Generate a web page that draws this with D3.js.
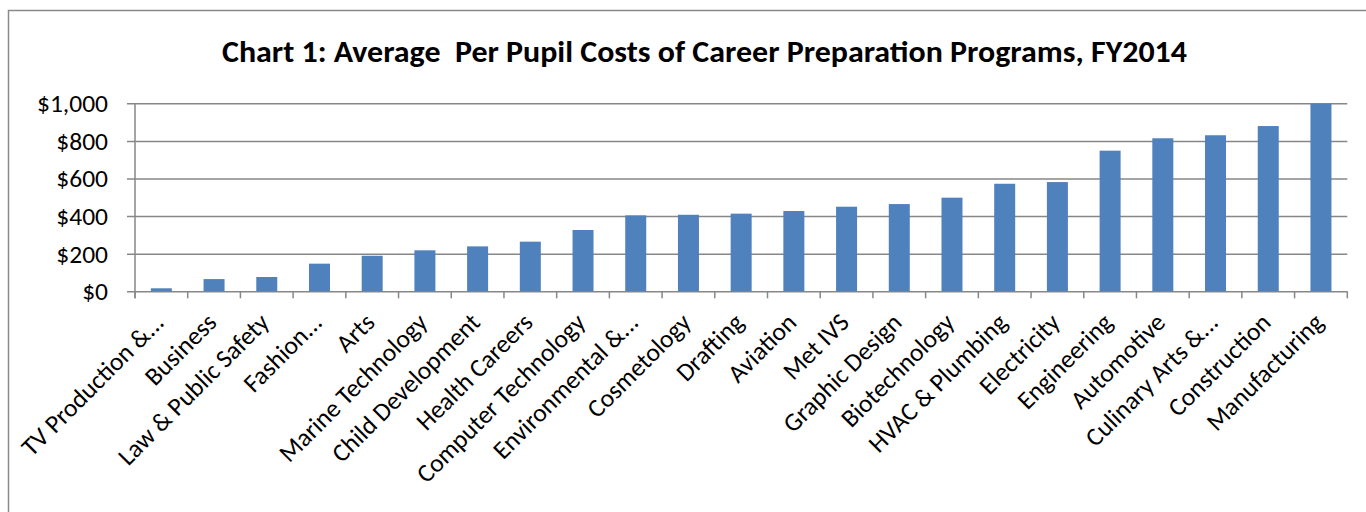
<!DOCTYPE html>
<html>
<head>
<meta charset="utf-8">
<script src="https://cdn.jsdelivr.net/npm/d3@7/dist/d3.min.js"></script>
<style>
  html, body { margin: 0; padding: 0; background: #fff; }
  svg { display: block; }
  text { font-family: Calibri, Carlito, Lato, "Open Sans", sans-serif; fill: #000; }
</style>
</head>
<body>
<svg id="chart" width="1366" height="512"></svg>
<script>
const titleText = "Chart 1: Average  Per Pupil Costs of Career Preparation Programs, FY2014";
const categories = [
  "TV Production &...", "Business", "Law & Public Safety", "Fashion...", "Arts",
  "Marine Technology", "Child Development", "Health Careers", "Computer Technology",
  "Environmental &...", "Cosmetology", "Drafting", "Aviation", "Met IVS",
  "Graphic Design", "Biotechnology", "HVAC & Plumbing", "Electricity",
  "Engineering", "Automotive", "Culinary Arts &...", "Construction", "Manufacturing"
];
const values = [
  16, 65, 76, 147, 189, 218, 239, 264, 326, 404, 407, 413, 427, 450,
  464, 498, 572, 581, 748, 814, 830, 879, 998
];
const yTickValues = [0, 200, 400, 600, 800, 1000];
const yTickLabels = ["$0", "$200", "$400", "$600", "$800", "$1,000"];

(function () {
const svg = d3.select("#chart");
const plotLeft = 135, plotRight = 1347.3, plotTop = 103.3, plotBottom = 291.3;
const gridColor = "#878787";

// fit font size so "$1,000" is ~71px wide, whatever font is present
const probe = svg.append("text").attr("font-size", 100).text("$1,000");
const probeW = probe.node().getComputedTextLength();
probe.remove();
const labelSize = Math.min(26, Math.max(18, 100 * 71 / probeW));

// frame
svg.append("rect")
  .attr("x", 8.5).attr("y", 10.5).attr("width", 1400).attr("height", 600)
  .attr("fill", "none").attr("stroke", "#8a8a8a").attr("stroke-width", 1.5);

// title
svg.append("text")
  .attr("x", 704.5).attr("y", 62)
  .attr("text-anchor", "middle")
  .style("white-space", "pre")
  .attr("font-size", 30).attr("font-weight", "bold")
  .attr("textLength", 965).attr("lengthAdjust", "spacingAndGlyphs")
  .text(titleText);

const xb = d3.scaleBand().domain(categories).range([plotLeft, plotRight]).padding(0);
const y = d3.scaleLinear().domain([0, 1000]).range([plotBottom, plotTop]);

// y axis with gridlines
const yAxis = d3.axisLeft(y).tickValues(yTickValues)
  .tickFormat((d, i) => yTickLabels[i])
  .tickSize(-(plotRight - plotLeft)).tickSizeOuter(0).tickPadding(0);
const gy = svg.append("g").attr("transform", `translate(${plotLeft},0)`).call(yAxis);
gy.select(".domain").remove();
gy.selectAll(".tick line").attr("x1", -8).attr("stroke", gridColor).attr("stroke-width", 1.5);
gy.selectAll(".tick text")
  .attr("x", -27).attr("dy", "0.33em")
  .attr("font-size", labelSize).attr("fill", "#000")
  .attr("font-family", "Calibri, Carlito, Lato, 'Open Sans', sans-serif");

// bars
svg.append("g").selectAll("rect")
  .data(values)
  .join("rect")
  .attr("x", (d, i) => xb(categories[i]) + xb.bandwidth() / 2 - 10.5)
  .attr("width", 21)
  .attr("y", d => y(d))
  .attr("height", d => y(0) - y(d))
  .attr("fill", "#4F81BD");

// y axis line
svg.append("line")
  .attr("x1", plotLeft).attr("x2", plotLeft).attr("y1", plotTop).attr("y2", plotBottom + 7)
  .attr("stroke", gridColor).attr("stroke-width", 1.5);

// x axis ticks at category boundaries
const bounds = categories.map(c => xb(c)).concat([plotRight]);
svg.append("g").selectAll("line")
  .data(bounds)
  .join("line")
  .attr("x1", d => d).attr("x2", d => d)
  .attr("y1", plotBottom).attr("y2", plotBottom + 7)
  .attr("stroke", gridColor).attr("stroke-width", 1.5);

// x labels rotated
svg.append("g").selectAll("text")
  .data(categories)
  .join("text")
  .attr("text-anchor", "end")
  .attr("font-size", labelSize)
  .attr("transform", d => `translate(${xb(d) + xb.bandwidth() / 2 + 4},${324}) rotate(-45)`)
  .text(d => d);
})();
</script>
</body>
</html>
